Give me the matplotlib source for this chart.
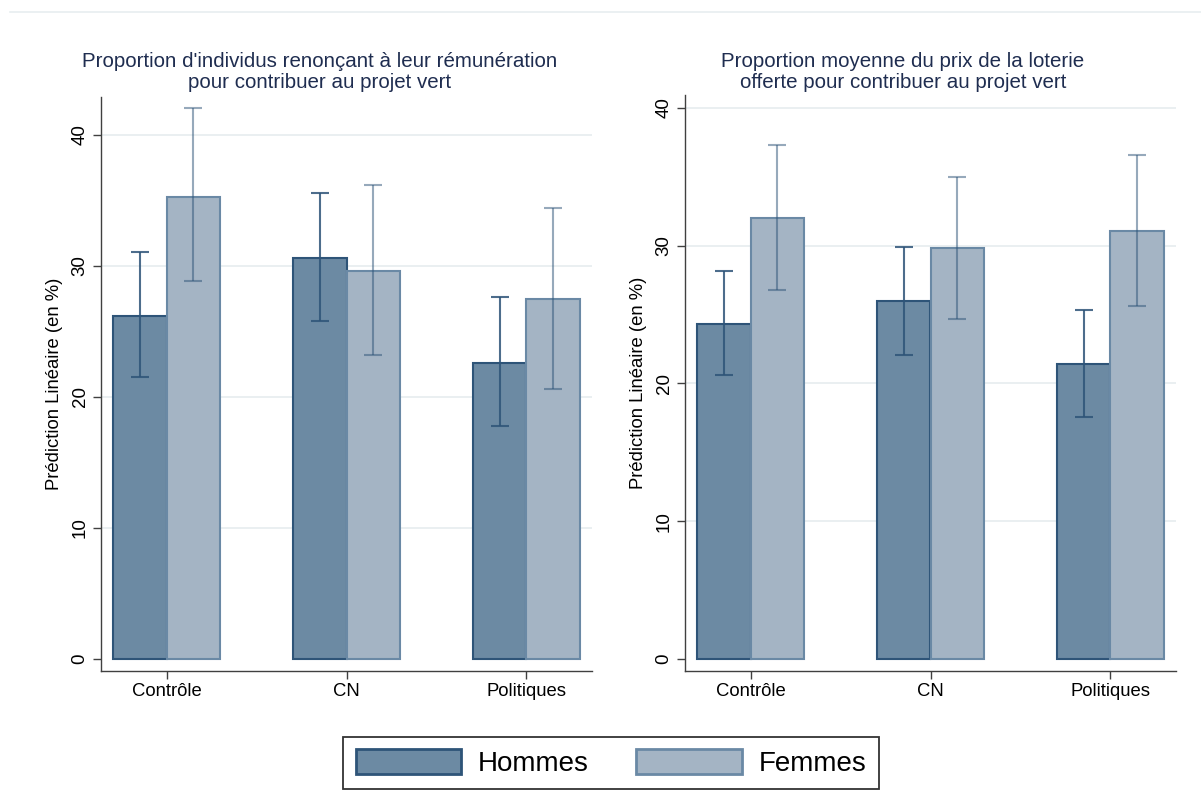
import numpy as np
import matplotlib
matplotlib.use("Agg")
import matplotlib.pyplot as plt
from matplotlib.patches import Patch
from matplotlib.lines import Line2D

plt.rcParams['font.family'] = ['Liberation Sans', 'DejaVu Sans']

# Data
categories = ["Contrôle", "CN", "Politiques"]

# panel 1 : renonciation a la remuneration
p1_hommes = [26.2, 30.6, 22.6]
p1_hommes_lo = [21.5, 25.8, 17.8]
p1_hommes_hi = [31.05, 35.6, 27.6]
p1_femmes = [35.3, 29.6, 27.5]
p1_femmes_lo = [28.85, 23.2, 20.6]
p1_femmes_hi = [42.05, 36.2, 34.45]

# panel 2 : prix de la loterie
p2_hommes = [24.35, 26.0, 21.45]
p2_hommes_lo = [20.6, 22.1, 17.6]
p2_hommes_hi = [28.2, 29.9, 25.35]
p2_femmes = [32.0, 29.8, 31.1]
p2_femmes_lo = [26.8, 24.7, 25.6]
p2_femmes_hi = [37.3, 35.0, 36.6]

titles = ["Proportion d'individus renonçant à leur rémunération\npour contribuer au projet vert",
          "Proportion moyenne du prix de la loterie\nofferte pour contribuer au projet vert"]
ylabel = "Prédiction Linéaire (en %)"
legend_labels = ["Hommes", "Femmes"]

# colours
base = "#2e5478"
c_h_fill = "#6c8aa3"
c_f_fill = "#a4b4c4"
c_f_edge = "#6a89a5"
c_grid = "#e8eef0"
c_title = "#1f2d50"

fig = plt.figure(figsize=(12.01, 8.07), dpi=100)
W, H = 1201, 807

def px_axes(x0, x1, y0, y1):
    return fig.add_axes([x0 / W, 1 - y1 / H, (x1 - x0) / W, (y1 - y0) / H])

ax1 = px_axes(101, 592, 97, 671)
ax2 = px_axes(685, 1176, 95, 671)

bw = 0.295
x = np.arange(1, len(categories) + 1)

def panel(ax, h, hlo, hhi, f, flo, fhi, ylim):
    ax.set_axisbelow(True)
    for v in [10, 20, 30, 40]:
        ax.axhline(v, color=c_grid, lw=1.3, zorder=0)
    ax.bar(x - bw / 2, h, bw, color=c_h_fill, edgecolor=base, lw=1.5, zorder=2)
    ax.bar(x + bw / 2, f, bw, color=c_f_fill, edgecolor=c_f_edge, lw=1.5, zorder=2)
    h = np.array(h); f = np.array(f)
    ax.errorbar(x - bw / 2, h, yerr=[h - np.array(hlo), np.array(hhi) - h], fmt='none',
                ecolor=base, alpha=0.85, elinewidth=1.5, capsize=6.5, capthick=1.5, zorder=3)
    ax.errorbar(x + bw / 2, f, yerr=[f - np.array(flo), np.array(fhi) - f], fmt='none',
                ecolor=base, alpha=0.5, elinewidth=1.5, capsize=6.5, capthick=1.5, zorder=3)
    ax.set_xlim(0.636, 3.364)
    ax.set_ylim(*ylim)
    ax.set_xticks(x)
    ax.set_xticklabels(categories, fontsize=13.3)
    ax.set_yticks([0, 10, 20, 30, 40])
    ax.set_yticklabels(["0", "10", "20", "30", "40"], fontsize=13.5, rotation=90, va='center')
    ax.tick_params(axis='both', length=6, width=1, color="#404040", pad=3)
    ax.set_ylabel(ylabel, fontsize=13.3, labelpad=6)
    for s in ['top', 'right']:
        ax.spines[s].set_visible(False)
    for s in ['left', 'bottom']:
        ax.spines[s].set_color("#404040")
        ax.spines[s].set_linewidth(1)

panel(ax1, p1_hommes, p1_hommes_lo, p1_hommes_hi, p1_femmes, p1_femmes_lo, p1_femmes_hi, (-0.92, 42.9))
panel(ax2, p2_hommes, p2_hommes_lo, p2_hommes_hi, p2_femmes, p2_femmes_lo, p2_femmes_hi, (-0.87, 40.94))

fig.text(320 / W, 1 - 72 / H, titles[0], ha='center', va='center', fontsize=14.8,
         color=c_title, linespacing=1.12)
fig.text(903 / W, 1 - 72 / H, titles[1], ha='center', va='center', fontsize=14.8,
         color=c_title, linespacing=1.12)

# faint frame line at top
fig.add_artist(Line2D([10 / W, 1], [1 - 12 / H, 1 - 12 / H], color="#e8eef0", lw=1.2))

handles = [Patch(facecolor=c_h_fill, edgecolor=base, lw=2),
           Patch(facecolor=c_f_fill, edgecolor=c_f_edge, lw=2)]
leg = fig.legend(handles, legend_labels, loc='center', bbox_to_anchor=(611 / W, 1 - 763 / H),
                 ncol=2, fontsize=20, frameon=True, fancybox=False, handlelength=3.8,
                 handleheight=1.0, handletextpad=0.6, columnspacing=1.7, borderpad=0.45)
leg.get_frame().set_edgecolor("black")
leg.get_frame().set_linewidth(1.3)

fig.savefig("out.png", dpi=100)
